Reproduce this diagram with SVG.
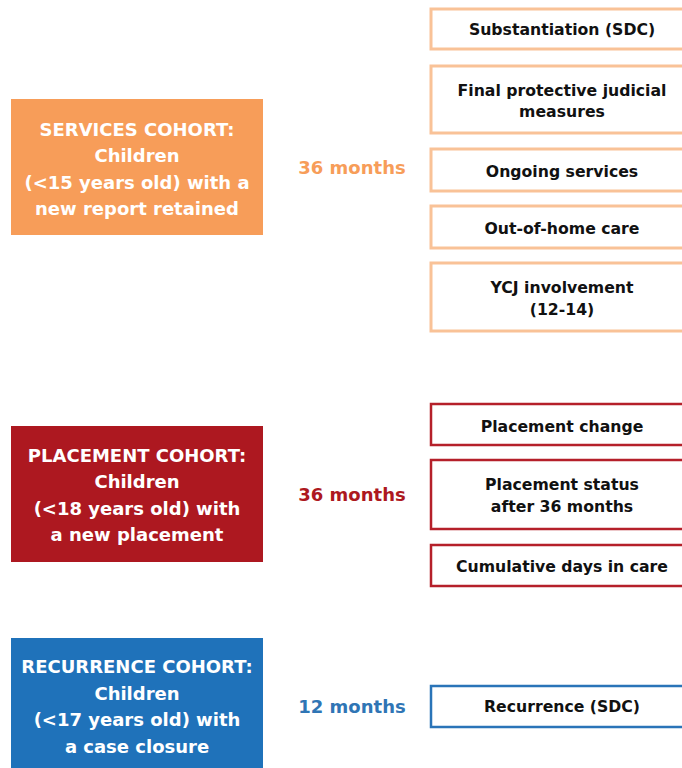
<svg xmlns="http://www.w3.org/2000/svg" width="682" height="768" viewBox="0 0 682 768">
  <style>
    text { font-family: "DejaVu Sans", "Liberation Sans", sans-serif; font-weight: bold; text-anchor: middle; }
    .cohort { fill: #ffffff; font-size: 18px; }
    .period { font-size: 18px; }
    .outcome { fill: #111111; font-size: 15.7px; }
    .box-svc { fill: #ffffff; stroke: #f9c297; stroke-width: 3; }
    .box-plc { fill: #ffffff; stroke: #b5202a; stroke-width: 2.5; }
    .box-rec { fill: #ffffff; stroke: #2a74b8; stroke-width: 2.5; }
  </style>
  <rect width="682" height="768" fill="#ffffff"/>

  <!-- Services cohort -->
  <g id="services-cohort">
    <rect x="11" y="99" width="252" height="136" fill="#f79d59"/>
    <text class="cohort" x="137" y="136">SERVICES COHORT:</text>
    <text class="cohort" x="137" y="162">Children</text>
    <text class="cohort" x="137" y="189">(&lt;15 years old) with a</text>
    <text class="cohort" x="137" y="215">new report retained</text>
  </g>
  <g id="services-period">
    <text class="period" x="352" y="174" fill="#f79d59">36 months</text>
  </g>
  <g id="substantiation">
    <rect class="box-svc" x="431" y="9" width="262" height="40"/>
    <text class="outcome" x="562" y="35">Substantiation (SDC)</text>
  </g>
  <g id="judicial-measures">
    <rect class="box-svc" x="431" y="66" width="262" height="67"/>
    <text class="outcome" x="562" y="96">Final protective judicial</text>
    <text class="outcome" x="562" y="117">measures</text>
  </g>
  <g id="ongoing-services">
    <rect class="box-svc" x="431" y="149" width="262" height="42"/>
    <text class="outcome" x="562" y="177">Ongoing services</text>
  </g>
  <g id="out-of-home-care">
    <rect class="box-svc" x="431" y="206" width="262" height="42"/>
    <text class="outcome" x="562" y="234">Out-of-home care</text>
  </g>
  <g id="ycj-involvement">
    <rect class="box-svc" x="431" y="263" width="262" height="68"/>
    <text class="outcome" x="562" y="293">YCJ involvement</text>
    <text class="outcome" x="562" y="315">(12-14)</text>
  </g>

  <!-- Placement cohort -->
  <g id="placement-cohort">
    <rect x="11" y="426" width="252" height="136" fill="#ad1820"/>
    <text class="cohort" x="137" y="462">PLACEMENT COHORT:</text>
    <text class="cohort" x="137" y="488">Children</text>
    <text class="cohort" x="137" y="515">(&lt;18 years old) with</text>
    <text class="cohort" x="137" y="541">a new placement</text>
  </g>
  <g id="placement-period">
    <text class="period" x="352" y="501" fill="#ad1820">36 months</text>
  </g>
  <g id="placement-change">
    <rect class="box-plc" x="431" y="404" width="262" height="41"/>
    <text class="outcome" x="562" y="432">Placement change</text>
  </g>
  <g id="placement-status">
    <rect class="box-plc" x="431" y="460" width="262" height="69"/>
    <text class="outcome" x="562" y="490">Placement status</text>
    <text class="outcome" x="562" y="512">after 36 months</text>
  </g>
  <g id="cumulative-days">
    <rect class="box-plc" x="431" y="545" width="262" height="41"/>
    <text class="outcome" x="562" y="572">Cumulative days in care</text>
  </g>

  <!-- Recurrence cohort -->
  <g id="recurrence-cohort">
    <rect x="11" y="638" width="252" height="140" fill="#1f72ba"/>
    <text class="cohort" x="137" y="673">RECURRENCE COHORT:</text>
    <text class="cohort" x="137" y="700">Children</text>
    <text class="cohort" x="137" y="726">(&lt;17 years old) with</text>
    <text class="cohort" x="137" y="753">a case closure</text>
  </g>
  <g id="recurrence-period">
    <text class="period" x="352" y="713" fill="#2f75b5">12 months</text>
  </g>
  <g id="recurrence-sdc">
    <rect class="box-rec" x="431" y="686" width="262" height="41"/>
    <text class="outcome" x="562" y="712">Recurrence (SDC)</text>
  </g>

  <g id="connectors"></g>
</svg>
